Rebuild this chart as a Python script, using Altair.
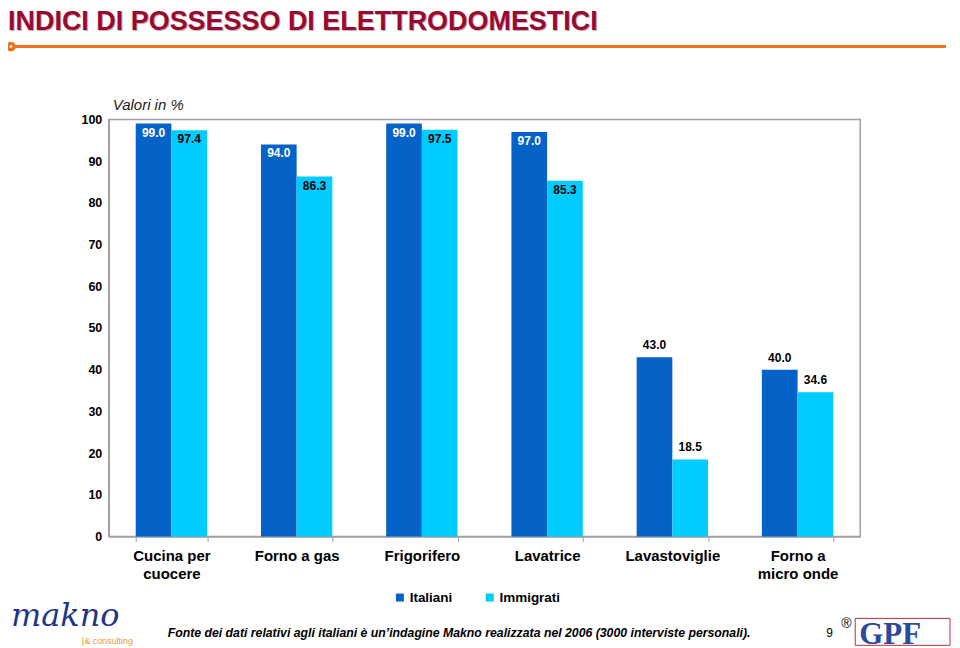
import altair as alt
import pandas as pd

categories = ["Cucina per cuocere", "Forno a gas", "Frigorifero", "Lavatrice", "Lavastoviglie", "Forno a micro onde"]
series = ["Italiani", "Immigrati"]
italiani = [99.0, 94.0, 99.0, 97.0, 43.0, 40.0]
immigrati = [97.4, 86.3, 97.5, 85.3, 18.5, 34.6]
colors = ["#0563C8", "#00CCFF"]

rows = []
for c, a, b in zip(categories, italiani, immigrati):
    rows.append({"cat": c, "serie": "Italiani", "value": a})
    rows.append({"cat": c, "serie": "Immigrati", "value": b})
df = pd.DataFrame(rows)

FONT = "Liberation Sans, Arial, Helvetica, sans-serif"

label_expr = ("datum.value == 'Cucina per cuocere' ? ['Cucina per', 'cuocere'] : "
              "datum.value == 'Forno a micro onde' ? ['Forno a', 'micro onde'] : datum.value")

x_enc = alt.X("cat:N", sort=categories,
              scale=alt.Scale(paddingInner=0.43, paddingOuter=0.215),
              axis=alt.Axis(title=None, labelAngle=0, labelFontSize=15, labelFontWeight="bold",
                            labelColor="#000000", labelFont=FONT, labelPadding=7, labelLineHeight=18,
                            tickBand="extent", tickSize=5, tickColor="#A0A0A0", tickWidth=1,
                            domainColor="#A0A0A0", domainWidth=1.5, labelExpr=label_expr))
y_enc = alt.Y("value:Q", scale=alt.Scale(domain=[0, 100], nice=False),
              axis=alt.Axis(title=None, values=list(range(0, 101, 10)), ticks=False, tickSize=0,
                            labelFontSize=12.5, labelFontWeight="bold", labelColor="#000000",
                            labelFont=FONT, labelPadding=7, grid=False,
                            domainColor="#A0A0A0", domainWidth=1.5))
xoff = alt.XOffset("serie:N", sort=series)

base = alt.Chart(df)

bars = base.mark_bar().encode(
    x=x_enc, y=y_enc, xOffset=xoff,
    color=alt.Color("serie:N", sort=series,
                    scale=alt.Scale(domain=series, range=colors),
                    legend=alt.Legend(title=None, orient="none", direction="horizontal",
                                      legendX=285, legendY=472, symbolType="square",
                                      symbolSize=64, symbolStrokeWidth=0,
                                      labelFontSize=13.5, labelFontWeight="bold", labelFont=FONT,
                                      labelColor="#000000", labelOffset=3, columnPadding=30))
)

inside = base.transform_filter(alt.datum.value > 50).mark_text(
    baseline="middle", dy=9, fontSize=12, fontWeight="bold", font=FONT
).encode(
    x=alt.X("cat:N", sort=categories), y="value:Q", xOffset=xoff,
    text=alt.Text("value:Q", format=".1f"),
    color=alt.condition(alt.datum.serie == "Italiani", alt.value("#FFFFFF"), alt.value("#000000"))
)

outside = base.transform_filter(alt.datum.value <= 50).mark_text(
    baseline="middle", dy=-12, fontSize=12, fontWeight="bold", font=FONT, color="#000000"
).encode(
    x=alt.X("cat:N", sort=categories), y="value:Q", xOffset=xoff,
    text=alt.Text("value:Q", format=".1f")
)

one = pd.DataFrame({"k": [0]})


def note(text, x, y, font=FONT, **kw):
    return alt.Chart(pd.DataFrame({"t": [text]})).mark_text(
        align="left", baseline="alphabetic", font=font, **kw).encode(
        x=alt.value(x), y=alt.value(y), text="t:N")


title_shadow = note("INDICI DI POSSESSO DI ELETTRODOMESTICI", -100, -89, fontSize=27,
                    fontWeight="bold", color="#C8B0B8")
title = note("INDICI DI POSSESSO DI ELETTRODOMESTICI", -101, -90, fontSize=27,
             fontWeight="bold", color="#990A2E")
orange_line = alt.Chart(one).mark_rule(color="#F07122", strokeWidth=3).encode(
    x=alt.value(-95), x2=alt.value(839), y=alt.value(-73))
orange_dot = alt.Chart(one).mark_point(shape="circle", size=40, filled=True, fill="#FFFFFF",
                                        stroke="#F07122", strokeWidth=3.5, opacity=1).encode(
    x=alt.value(-98), y=alt.value(-73))
valori = note("Valori in %", 4, -9, fontSize=15, fontStyle="italic", color="#222222")
footer = note("Fonte dei dati relativi agli italiani è un’indagine Makno realizzata nel 2006 (3000 interviste personali).",
              59, 519, fontSize=12.3, fontStyle="italic", fontWeight="bold", color="#000000")
page_no = note("9", 719, 519, fontSize=12, color="#000000")
reg = note("®", 734, 510, fontSize=14, color="#000000")
gpf = note("GPF", 752, 526, font="Liberation Serif, DejaVu Serif, serif", fontSize=31,
           fontWeight="bold", color="#2B4A9B")
gpf_box = alt.Chart(one).mark_rect(fill=None, stroke="#B0303A", strokeWidth=1).encode(
    x=alt.value(748), x2=alt.value(843), y=alt.value(500), y2=alt.value(527))
makno = note("makno", -98, 508, font="DejaVu Serif, serif", fontSize=32, fontStyle="italic",
             color="#1F3585")
consult = note("|& consulting", -27, 526, fontSize=9, color="#E59A3C")

chart = alt.layer(
    bars, inside, outside, title_shadow, title, orange_line, orange_dot, valori,
    footer, page_no, reg, gpf_box, gpf, makno, consult
).properties(
    width=753, height=418,
    autosize=alt.AutoSizeParams(type="none"),
    padding={"left": 101, "top": 111, "right": 92, "bottom": 111},
    background="#FFFFFF"
).configure_view(stroke="#A0A0A0", strokeWidth=1.5)

chart.save("out.html", embed_options={"renderer": "svg", "actions": False})
